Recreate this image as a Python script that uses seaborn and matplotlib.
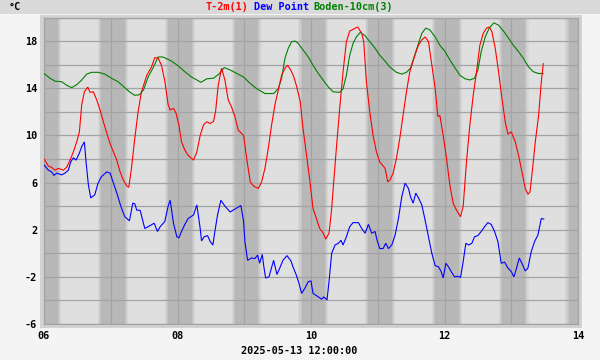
import matplotlib
matplotlib.use("Agg")
import matplotlib.pyplot as plt
import seaborn as sns
from matplotlib.patches import Rectangle

# ---------------- data (x in days since 2025-05-06 00:00) ----------------
temp_days = [0.0, 0.065, 0.11, 0.165, 0.215, 0.29, 0.34, 0.39, 0.44, 0.49, 0.53, 0.565,
             0.605, 0.655, 0.69, 0.74, 0.79, 0.84, 0.89, 0.94, 0.99, 1.04, 1.09, 1.14,
             1.19, 1.24, 1.27, 1.31, 1.36, 1.41, 1.46, 1.54, 1.61, 1.66, 1.71, 1.76,
             1.81, 1.86, 1.89, 1.94, 1.98, 2.02, 2.06, 2.11, 2.16, 2.24, 2.29, 2.34,
             2.39, 2.44, 2.49, 2.54, 2.57, 2.61, 2.66, 2.71, 2.76, 2.81, 2.86, 2.91,
             2.99, 3.04, 3.09, 3.14, 3.21, 3.26, 3.31, 3.36, 3.41, 3.46, 3.51, 3.56,
             3.61, 3.65, 3.70, 3.74, 3.78, 3.84, 3.88, 3.94, 3.99, 4.03, 4.09, 4.13,
             4.18, 4.22, 4.27, 4.31, 4.34, 4.38, 4.43, 4.48, 4.53, 4.58, 4.63, 4.70,
             4.76, 4.79, 4.83, 4.88, 4.93, 4.98, 5.03, 5.11, 5.15, 5.18, 5.23, 5.28,
             5.33, 5.38, 5.43, 5.48, 5.54, 5.58, 5.61, 5.66, 5.71, 5.76, 5.81, 5.86,
             5.90, 5.93, 5.98, 6.03, 6.08, 6.13, 6.18, 6.24, 6.28, 6.33, 6.38, 6.43,
             6.48, 6.53, 6.58, 6.63, 6.67, 6.71, 6.76, 6.81, 6.86, 6.91, 6.95, 7.00,
             7.06, 7.11, 7.16, 7.21, 7.25, 7.28, 7.32, 7.36, 7.41, 7.45, 7.48]
temp_vals = [8.0, 7.4, 7.3, 7.05, 7.2, 7.05, 7.3, 7.9, 8.6, 9.45, 10.3, 12.6,
             13.7, 14.1, 13.65, 13.7, 13.0, 12.15, 11.15, 10.2, 9.3, 8.6, 7.9, 6.9,
             6.2, 5.7, 5.6, 7.2, 9.75, 12.0, 13.7, 15.1, 15.8, 16.6, 16.55, 15.95,
             14.6, 12.6, 12.15, 12.3, 11.85, 10.9, 9.45, 8.75, 8.3, 7.9, 8.6, 10.0,
             10.9, 11.15, 11.0, 11.2, 12.0, 14.25, 15.7, 14.7, 13.0, 12.4, 11.6, 10.45,
             10.0, 7.9, 6.05, 5.7, 5.5, 6.05, 7.2, 8.9, 10.9, 12.6, 13.85, 15.1,
             15.7, 15.95, 15.5, 15.0, 14.25, 12.85, 10.6, 8.05, 5.8, 3.8, 2.8, 2.1,
             1.75, 1.2, 1.7, 3.8, 6.05, 8.9, 12.3, 15.4, 17.95, 18.85, 19.0, 19.2,
             18.65, 17.95, 14.55, 12.0, 10.0, 8.6, 7.75, 7.2, 6.05, 6.2, 6.8, 8.05,
             9.75, 11.7, 13.7, 15.4, 16.5, 17.2, 17.65, 18.1, 18.35, 17.95, 15.95, 14.0,
             11.6, 11.7, 10.0, 8.05, 5.8, 4.25, 3.65, 3.1, 4.0, 7.8, 10.9, 13.4,
             15.4, 17.65, 18.65, 19.1, 19.2, 18.8, 17.4, 15.4, 13.15, 11.15, 10.1, 10.3,
             9.45, 8.3, 6.9, 5.5, 5.0, 5.2, 7.2, 9.45, 11.7, 14.55, 16.1]

dew_days = [0.0, 0.065, 0.115, 0.15, 0.19, 0.265, 0.315, 0.365, 0.40, 0.44, 0.48, 0.53,
            0.565, 0.605, 0.63, 0.665, 0.70, 0.76, 0.81, 0.86, 0.94, 0.99, 1.04, 1.10,
            1.15, 1.21, 1.28, 1.33, 1.36, 1.39, 1.44, 1.51, 1.59, 1.65, 1.70, 1.74,
            1.81, 1.86, 1.89, 1.94, 1.99, 2.02, 2.06, 2.11, 2.16, 2.24, 2.29, 2.34,
            2.36, 2.40, 2.45, 2.49, 2.53, 2.56, 2.60, 2.65, 2.71, 2.79, 2.86, 2.95,
            2.99, 3.01, 3.05, 3.11, 3.16, 3.20, 3.23, 3.27, 3.29, 3.32, 3.37, 3.40,
            3.44, 3.49, 3.54, 3.58, 3.64, 3.70, 3.73, 3.78, 3.82, 3.86, 3.91, 3.96,
            4.00, 4.03, 4.11, 4.16, 4.19, 4.24, 4.27, 4.31, 4.36, 4.41, 4.45, 4.48,
            4.53, 4.58, 4.63, 4.71, 4.76, 4.81, 4.86, 4.91, 4.96, 4.99, 5.03, 5.08,
            5.12, 5.16, 5.21, 5.26, 5.31, 5.36, 5.41, 5.46, 5.49, 5.53, 5.57, 5.61,
            5.66, 5.71, 5.76, 5.81, 5.86, 5.91, 5.95, 5.98, 6.02, 6.06, 6.10, 6.15,
            6.20, 6.24, 6.28, 6.32, 6.36, 6.41, 6.45, 6.50, 6.55, 6.60, 6.65, 6.70,
            6.75, 6.80, 6.85, 6.90, 6.95, 7.00, 7.04, 7.08, 7.12, 7.16, 7.21, 7.25,
            7.30, 7.35, 7.40, 7.45, 7.49]
dew_vals = [7.5, 7.05, 6.9, 6.6, 6.8, 6.65, 6.8, 7.05, 7.75, 8.1, 7.9, 8.5,
            9.05, 9.45, 7.75, 5.8, 4.7, 4.95, 5.95, 6.5, 6.9, 6.8, 5.95, 4.95,
            4.0, 3.1, 2.75, 4.25, 4.2, 3.65, 3.65, 2.1, 2.35, 2.55, 1.85, 2.25,
            2.7, 4.0, 4.5, 2.55, 1.4, 1.3, 1.85, 2.45, 2.95, 3.25, 4.1, 2.1,
            1.05, 1.4, 1.5, 1.0, 0.7, 1.85, 3.25, 4.5, 4.0, 3.5, 3.75, 4.05,
            2.7, 1.0, -0.6, -0.4, -0.45, -0.15, -0.85, -0.1, -1.0, -2.1, -2.0, -1.4,
            -0.6, -1.8, -1.15, -0.6, -0.2, -0.65, -1.15, -1.85, -2.55, -3.4, -2.95, -2.4,
            -2.35, -3.4, -3.7, -3.9, -3.7, -3.95, -2.4, 0.0, 0.7, 0.85, 1.1, 0.7,
            1.4, 2.25, 2.6, 2.6, 2.1, 1.7, 2.45, 1.7, 1.85, 1.1, 0.4, 0.4,
            0.85, 0.4, 0.7, 1.55, 2.95, 4.8, 5.95, 5.5, 4.8, 4.25, 5.1, 4.7,
            4.1, 2.8, 1.4, 0.0, -1.05, -1.15, -1.55, -2.1, -0.85, -1.15, -1.55, -2.0,
            -1.95, -2.05, -0.7, 0.85, 0.7, 0.85, 1.4, 1.5, 1.85, 2.25, 2.6, 2.45,
            1.85, 1.0, -0.85, -0.75, -1.25, -1.55, -2.0, -1.25, -0.4, -0.85, -1.5, -1.25,
            0.15, 1.0, 1.55, 2.95, 2.9]

soil_days = [0.0, 0.09, 0.165, 0.265, 0.34, 0.415, 0.49, 0.565, 0.64, 0.715, 0.815, 0.91,
             1.01, 1.11, 1.21, 1.29, 1.36, 1.43, 1.49, 1.56, 1.64, 1.71, 1.78, 1.84,
             1.91, 2.01, 2.11, 2.21, 2.29, 2.35, 2.44, 2.54, 2.62, 2.70, 2.79, 2.89,
             2.99, 3.09, 3.19, 3.31, 3.44, 3.51, 3.56, 3.61, 3.66, 3.71, 3.76, 3.81,
             3.88, 3.96, 4.03, 4.11, 4.18, 4.26, 4.33, 4.43, 4.48, 4.53, 4.58, 4.63,
             4.68, 4.74, 4.81, 4.88, 4.96, 5.03, 5.11, 5.18, 5.28, 5.36, 5.43, 5.49,
             5.54, 5.61, 5.66, 5.72, 5.78, 5.86, 5.93, 6.01, 6.08, 6.16, 6.23, 6.31,
             6.38, 6.45, 6.50, 6.55, 6.61, 6.67, 6.74, 6.81, 6.89, 6.96, 7.03, 7.11,
             7.18, 7.26, 7.33, 7.41, 7.48]
soil_vals = [15.25, 14.85, 14.6, 14.55, 14.25, 14.05, 14.3, 14.7, 15.2, 15.35, 15.35, 15.2,
             14.85, 14.55, 14.05, 13.65, 13.4, 13.45, 13.85, 14.95, 15.8, 16.65, 16.65, 16.5,
             16.3, 15.9, 15.4, 14.95, 14.7, 14.5, 14.8, 14.85, 15.2, 15.75, 15.55, 15.25,
             14.95, 14.4, 13.95, 13.55, 13.55, 13.95, 14.85, 16.55, 17.4, 17.95, 18.0, 17.8,
             17.25, 16.65, 15.95, 15.25, 14.7, 14.1, 13.7, 13.65, 13.95, 15.1, 16.8, 17.8,
             18.35, 18.75, 18.45, 17.95, 17.4, 16.8, 16.3, 15.8, 15.35, 15.2, 15.35, 15.7,
             16.55, 17.8, 18.65, 19.1, 18.95, 18.35, 17.65, 17.1, 16.4, 15.7, 15.1, 14.8,
             14.7, 14.85, 15.55, 17.1, 18.35, 19.1, 19.55, 19.35, 18.8, 18.25, 17.65, 17.1,
             16.55, 15.8, 15.4, 15.25, 15.25]

x_tick_labels = ["06", "", "08", "", "10", "", "12", "", "14"]
y_ticks = list(range(-6, 21, 2))
y_tick_labels = [str(v) if (v + 6) % 4 == 0 else "" for v in y_ticks]
legend_names = ["T-2m(1)", "Dew Point", "Boden-10cm(3)"]
legend_colors = ["#ff0000", "#0000ff", "#008000"]
unit_label = "°C"
date_label = "2025-05-13 12:00:00"

# ---------------- style ----------------
sns.set_theme(style="white")
plt.rcParams['font.family'] = ['DejaVu Sans Mono', 'DejaVu Sans']
plt.rcParams['font.weight'] = 'bold'

W, H = 600, 360
fig = plt.figure(figsize=(6, 3.6), dpi=100, facecolor='#f4f4f4')
fig.patches.append(Rectangle((0, 1 - 14 / H), 1, 14 / H, transform=fig.transFigure,
                             facecolor='#d9d9d9', edgecolor='none', zorder=0))
fig.patches.append(Rectangle((40 / W, 1 - 328 / H), 542 / W, 313 / H, transform=fig.transFigure,
                             facecolor='#d2d2d2', edgecolor='none', zorder=0))

ax = fig.add_axes([44 / W, 36 / H, 534 / W, (324 - 17.5) / H])
ax.set_zorder(2)
ax.set_facecolor('#dfdfdf')

# night shading with twilight gradient
grad = ['#d6d6d6', '#cdcdcd', '#c4c4c4']
for k in range(0, 9):
    ax.axvspan(k - 0.14, k + 0.21, color='#b8b8b8', lw=0, zorder=0.2)
    for i, c in enumerate(grad):
        a = k - 0.19 + i * 0.0167
        ax.axvspan(a, a + 0.0167, color=c, lw=0, zorder=0.2)
        b = k + 0.26 - (i + 1) * 0.0167
        ax.axvspan(b, b + 0.0167, color=c, lw=0, zorder=0.2)

sns.lineplot(x=soil_days, y=soil_vals, color=legend_colors[2], ax=ax, sort=False, zorder=3)
sns.lineplot(x=temp_days, y=temp_vals, color=legend_colors[0], ax=ax, sort=False, zorder=4)
sns.lineplot(x=dew_days, y=dew_vals, color=legend_colors[1], ax=ax, sort=False, zorder=5)
for ln in ax.get_lines():
    ln.set_linewidth(0.8)
    ln.set_antialiased(True)
    ln.set_solid_joinstyle('miter')

ax.set_xlim(0, 8)
ax.set_ylim(-6, 20)
ax.set_xticks(range(0, 9))
ax.set_xticklabels(x_tick_labels)
ax.set_yticks(y_ticks)
ax.set_yticklabels(y_tick_labels)
ax.set_axisbelow(True)
ax.grid(True, color='#a3a3a3', lw=0.9)
ax.tick_params(length=0, labelsize=7.3, colors='black', pad=5)
for lab in ax.get_xticklabels() + ax.get_yticklabels():
    lab.set_fontweight('bold')
for s in ax.spines.values():
    s.set_color('#a3a3a3')
    s.set_linewidth(0.9)
ax.set_xlabel("")
ax.set_ylabel("")

fs = 7.3
fig.text(15 / W, 1 - 7 / H, unit_label, ha='center', va='center', fontsize=fs, weight='bold', color='black')
x0 = 205.6
offs = 0
for name, col in zip(legend_names, legend_colors):
    fig.text((x0 + offs * 6.0) / W, 1 - 7 / H, name, ha='left', va='center', fontsize=fs,
             weight='bold', color=col)
    offs += len(name) + 1
fig.text(299.5 / W, 1 - 351.5 / H, date_label, ha='center', va='center', fontsize=fs,
         weight='bold', color='black')

fig.savefig("out.png", dpi=100, facecolor=fig.get_facecolor())
